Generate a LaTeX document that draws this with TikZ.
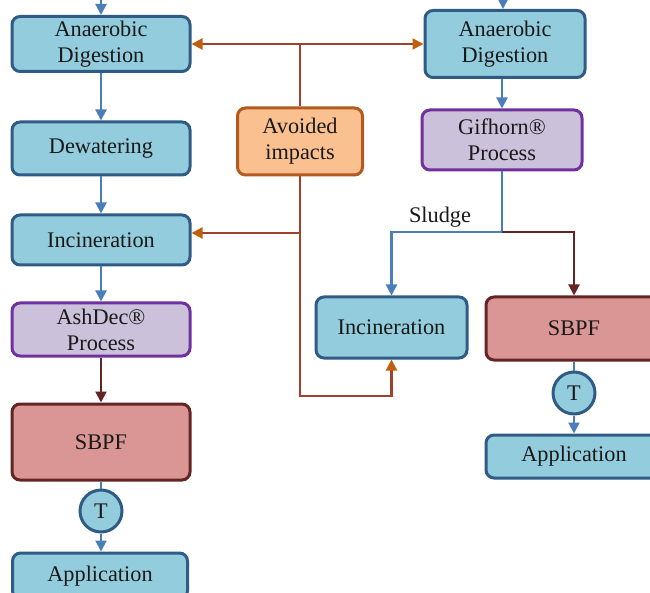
\documentclass[tikz,border=0pt]{standalone}
\usepackage{fontspec}
\setmainfont{Liberation Serif}
\usetikzlibrary{arrows.meta}
\definecolor{bfill}{HTML}{93CDDD}
\definecolor{bdraw}{HTML}{2F5B85}
\definecolor{pfill}{HTML}{CCC1DA}
\definecolor{pdraw}{HTML}{7030A0}
\definecolor{rfill}{HTML}{D99694}
\definecolor{rdraw}{HTML}{632523}
\definecolor{ofill}{HTML}{FAC090}
\definecolor{odraw}{HTML}{B55A1E}
\definecolor{barrow}{HTML}{4A7EBB}
\definecolor{brline}{HTML}{A0412A}
\definecolor{brtip}{HTML}{C0600F}
\begin{document}
\begin{tikzpicture}[x=1pt,y=-1pt,
  box/.style={rounded corners=8pt, line width=3pt, align=center,
    font=\fontsize{22.3}{26}\selectfont, inner sep=0pt, text=black!90},
  bluebox/.style={box, fill=bfill, draw=bdraw},
  purplebox/.style={box, fill=pfill, draw=pdraw},
  redbox/.style={box, fill=rfill, draw=rdraw},
  orangebox/.style={box, fill=ofill, draw=odraw},
  tcirc/.style={circle, fill=bfill, draw=bdraw, line width=3pt, minimum size=42pt,
    inner sep=0pt, font=\fontsize{22.3}{26}\selectfont, text=black!90},
  tip/.style={-{Triangle[width=11pt,length=11pt]}},
  flow/.style={draw=barrow, line width=2.2pt, tip},
  flowline/.style={draw=barrow, line width=2.2pt},
  darkflow/.style={draw=rdraw, line width=2.2pt, tip},
  brl/.style={draw=brline, line width=2.2pt},
  brarrow/.style={draw=brline, line width=2.2pt, -{Triangle[width=11pt,length=11pt,fill=brtip,color=brtip]}}
]
\useasboundingbox (0,0) rectangle (650,593);
\begin{scope}
\clip (0,0) rectangle (650,593);
% left column
\node[bluebox, minimum width=178pt, minimum height=55pt] (adL) at (101,44) {Anaerobic\\Digestion};
\node[bluebox, minimum width=178pt, minimum height=53pt] (dew) at (101,148.5) {Dewatering};
\node[bluebox, minimum width=178pt, minimum height=50pt] (incL) at (101,240) {Incineration};
\node[purplebox, minimum width=178pt, minimum height=53pt] (ash) at (101,329.5) {AshDec®\\Process};
\node[redbox, minimum width=178pt, minimum height=76pt] (sbpfL) at (101,442) {SBPF};
\node[tcirc] (tL) at (101,511) {T};
\node[bluebox, minimum width=175pt, minimum height=46pt] (appL) at (100,576) {Application};
% avoided impacts
\node[orangebox, minimum width=125pt, minimum height=67pt] (avoid) at (300,141.5) {Avoided\\impacts};
% right column
\node[bluebox, minimum width=160pt, minimum height=67pt] (adR) at (505,44) {Anaerobic\\Digestion};
\node[purplebox, minimum width=160pt, minimum height=60pt] (gif) at (502,140) {Gifhorn®\\Process};
\node[bluebox, minimum width=151pt, minimum height=61pt] (incR) at (391.5,327.5) {Incineration};
\node[redbox, minimum width=176pt, minimum height=63pt] (sbpfR) at (574,328.5) {SBPF};
\node[tcirc] (tR) at (574,393) {T};
\node[bluebox, minimum width=176pt, minimum height=43pt] (appR) at (574,456.5) {Application};
\node[font=\fontsize{22.3}{26}\selectfont, text=black!90] (sl) at (440,217) {Sludge};
% incoming stubs
\coordinate (inL) at (101,-5);
\coordinate (inR) at (503,-5);
\draw[flow] (inL) -- (adL.north);
\draw[flow] (inR) -- (adR.north -| inR);
% left flow
\draw[flow] (adL) -- (dew);
\draw[flow] (dew) -- (incL);
\draw[flow] (incL) -- (ash);
\draw[darkflow] (ash) -- (sbpfL);
\draw[flowline] (sbpfL) -- (tL);
\draw[flow] (tL) -- (appL.north -| tL);
% right flow
\coordinate (s) at (502,232);
\draw[flow] (adR.south -| gif) -- (gif);
\draw[flowline] (gif) -- (s);
\draw[flow] (s) -| (incR.north);
\draw[darkflow] (s) -| (sbpfR.north);
\draw[flowline] (sbpfR) -- (tR);
\draw[flow] (tR) -- (appR);
% avoided impacts connectors
\coordinate (j1) at (300,44);
\coordinate (j2) at (300,233);
\coordinate (j3) at (300,396);
\draw[brl] (avoid.north) -- (j1);
\draw[brarrow] (j1) -- (adL.east);
\draw[brarrow] (j1) -- (adR.west);
\draw[brarrow] (avoid.south) -- (j3) -| (incR.south);
\draw[brarrow] (j2) -- (incL.east |- j2);
\end{scope}
\end{tikzpicture}
\end{document}
